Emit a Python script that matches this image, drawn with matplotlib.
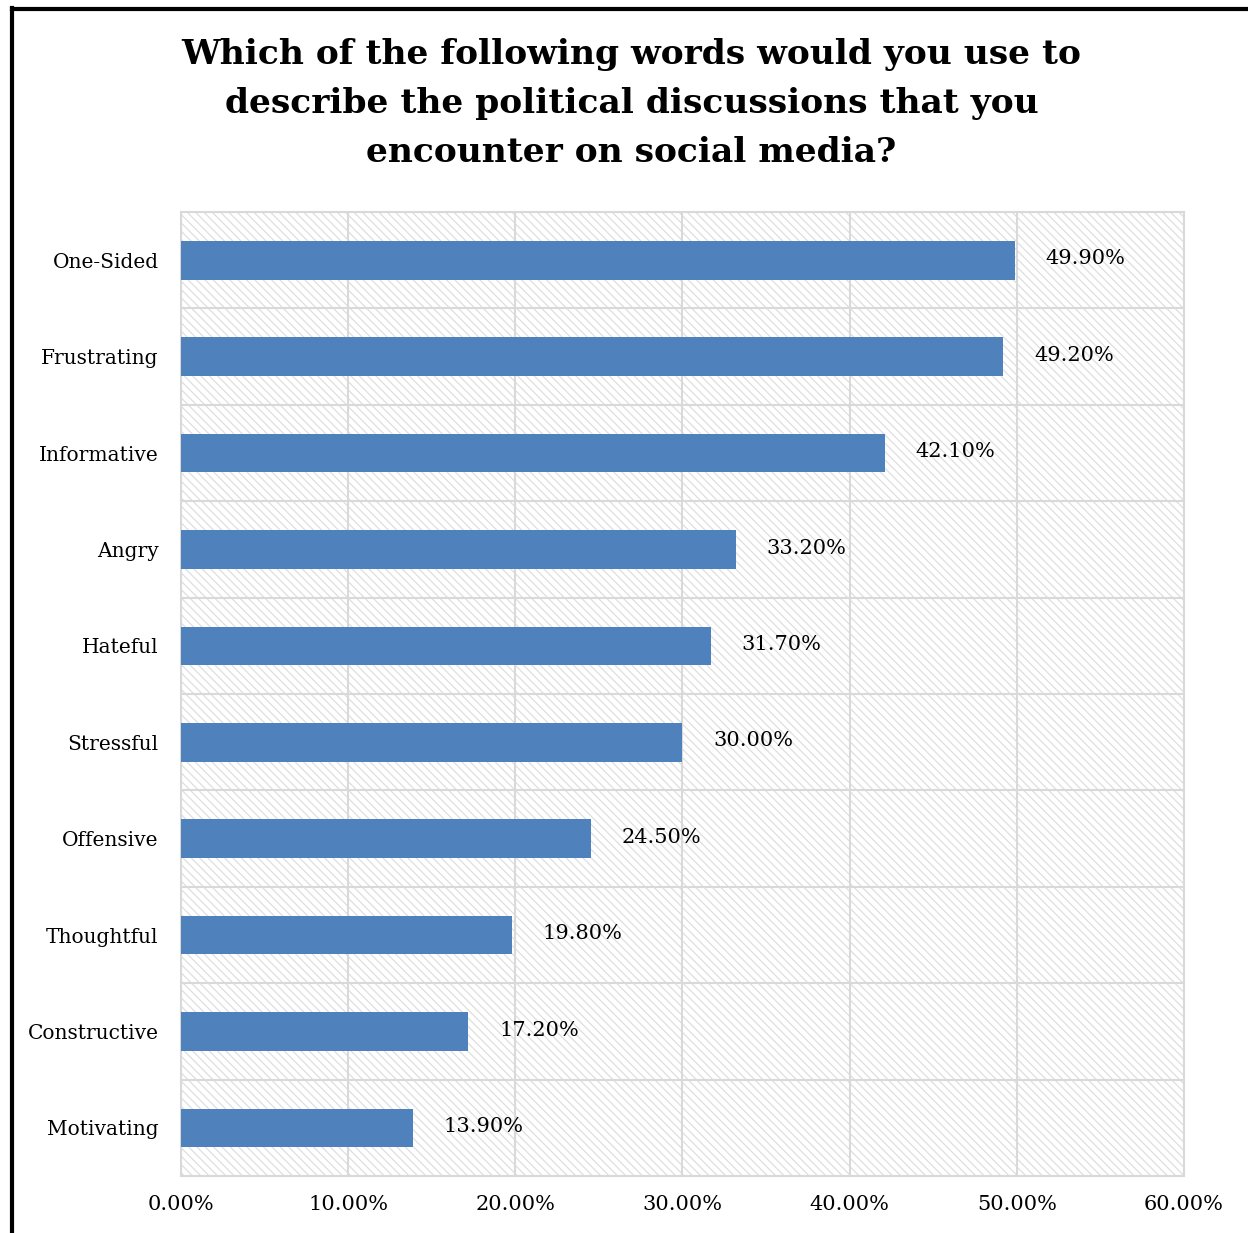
import matplotlib.pyplot as plt
from matplotlib.patches import Rectangle
from matplotlib.lines import Line2D
import numpy as np

plt.rcParams['font.family'] = ['DejaVu Serif']
plt.rcParams['hatch.linewidth'] = 0.9

# Survey answers (percent of respondents)
words = ['One-Sided', 'Frustrating', 'Informative', 'Angry', 'Hateful',
         'Stressful', 'Offensive', 'Thoughtful', 'Constructive', 'Motivating']
percents = [49.9, 49.2, 42.1, 33.2, 31.7, 30.0, 24.5, 19.8, 17.2, 13.9]
xticks = [0, 10, 20, 30, 40, 50, 60]

bar_color = '#4f81bd'
grid_color = '#d9d9d9'

fig = plt.figure(figsize=(12.48, 12.33), dpi=100)
ax = fig.add_axes([0.145, 0.0462, 0.8037, 0.7818])

# hatched plot area background
bg = Rectangle((0, 0), 1, 1, transform=ax.transAxes, facecolor='white',
               edgecolor='#dedede', hatch='\\' * 4, linewidth=0, zorder=0)
ax.add_patch(bg)
ax.patch.set_visible(False)

y = np.arange(len(words))
ax.barh(y, percents, height=0.4, color=bar_color, zorder=3)

for yi, v in zip(y, percents):
    ax.annotate(f'{v:.2f}%', xy=(v, yi), xytext=(22, 1), textcoords='offset points',
                ha='left', va='center', fontsize=15, zorder=4)

ax.set_xlim(0, 60)
ax.set_ylim(len(words) - 0.5, -0.5)
ax.set_xticks(xticks)
ax.set_xticklabels([f'{t:.2f}%' for t in xticks], fontsize=15)
ax.set_yticks(y)
ax.set_yticklabels(words, fontsize=14.5)
ax.set_yticks(np.arange(-0.5, len(words)), minor=True)
ax.tick_params(axis='both', which='both', length=0)
ax.tick_params(axis='x', pad=14)
ax.tick_params(axis='y', pad=16)

ax.grid(axis='x', which='major', color=grid_color, linewidth=1.5, zorder=1)
ax.grid(axis='y', which='minor', color=grid_color, linewidth=1.5, zorder=1)
ax.grid(axis='y', which='major', visible=False)
ax.set_axisbelow(True)
for s in ax.spines.values():
    s.set_color(grid_color)
    s.set_linewidth(1.5)

fig.text(0.506, 0.969,
         'Which of the following words would you use to\n'
         'describe the political discussions that you\n'
         'encounter on social media?',
         ha='center', va='top', fontsize=24.8, fontweight='bold', linespacing=1.62)

# black frame along the top and left edges
fig.add_artist(Line2D([0.0095, 1.0], [0.9923, 0.9923], color='black', linewidth=3,
                      transform=fig.transFigure))
fig.add_artist(Line2D([0.0095, 0.0095], [0.0, 0.9935], color='black', linewidth=3,
                      transform=fig.transFigure))

fig.savefig('out.png', dpi=100)
